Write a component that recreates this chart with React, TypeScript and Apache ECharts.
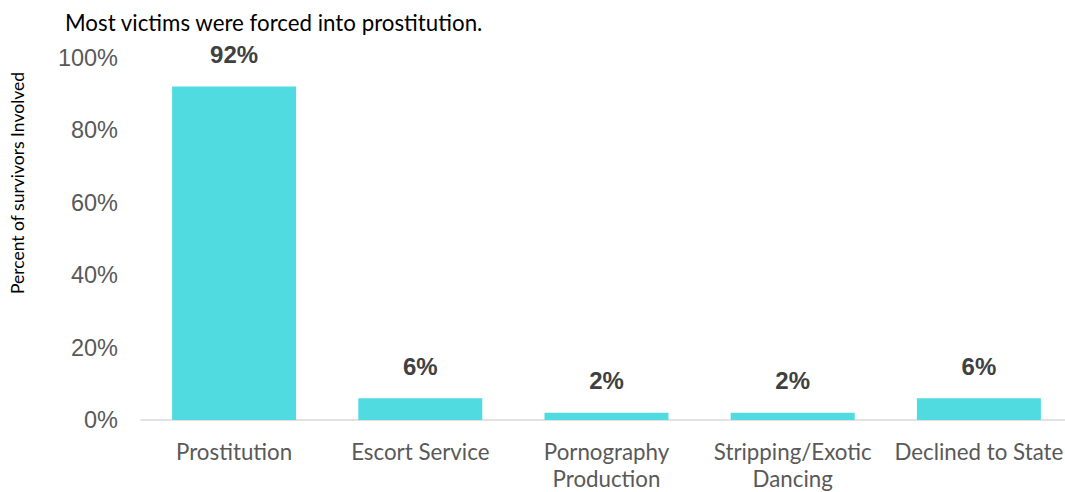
import React, { useEffect, useRef } from "react";
import * as echarts from "echarts";

const categories = ["Prostitution", "Escort Service", "Pornography\nProduction", "Stripping/Exotic\nDancing", "Declined to State"];
const values = [92, 6, 2, 2, 6];
const yTicks = [0, 20, 40, 60, 80, 100];
const titleText = "Most victims were forced into prostitution.";
const yAxisName = "Percent of survivors Involved";

export default function App() {
  const ref = useRef<HTMLDivElement>(null);
  useEffect(() => {
    if (!ref.current) return;
    const chart = echarts.init(ref.current, null, { renderer: "svg" });
    chart.setOption({
      animation: false,
      backgroundColor: "#ffffff",
      title: {
        text: titleText,
        left: 60,
        top: 6,
        textStyle: { fontFamily: "Lato", fontSize: 22.3, fontWeight: "normal", color: "#000000" },
      },
      grid: { left: 141, top: 57.5, right: 0, height: 362.5, containLabel: false },
      xAxis: {
        type: "category",
        data: categories,
        axisLine: { lineStyle: { color: "#d9d9d9", width: 1.5 } },
        axisTick: { show: false },
        axisLabel: {
          color: "#595959",
          fontFamily: "Lato",
          fontSize: 22.3,
          lineHeight: 27,
          margin: 18,
          interval: 0,
        },
      },
      yAxis: {
        type: "value",
        min: yTicks[0],
        max: yTicks[yTicks.length - 1],
        interval: 20,
        splitLine: { show: false },
        axisLine: { show: false },
        axisTick: { show: false },
        axisLabel: {
          formatter: "{value}%",
          color: "#595959",
          fontFamily: "Liberation Sans",
          fontSize: 23.5,
          margin: 23,
        },
      },
      graphic: [
        {
          type: "text",
          x: 17,
          y: 183,
          rotation: Math.PI / 2,
          style: {
            text: yAxisName,
            fontFamily: "Lato",
            fontSize: 17.5,
            fill: "#000000",
            align: "center",
            verticalAlign: "middle",
          },
        },
      ],
      series: [
        {
          type: "bar",
          data: values,
          barWidth: 124,
          itemStyle: { color: "#50dbe1" },
          label: {
            show: true,
            position: "top",
            distance: 20,
            formatter: "{c}%",
            fontFamily: "Liberation Sans",
            fontWeight: "bold",
            fontSize: 24,
            color: "#404040",
          },
        },
      ],
    });
    return () => chart.dispose();
  }, []);
  return <div ref={ref} style={{ position: "fixed", left: 0, top: 0, width: 1072, height: 492 }} />;
}
